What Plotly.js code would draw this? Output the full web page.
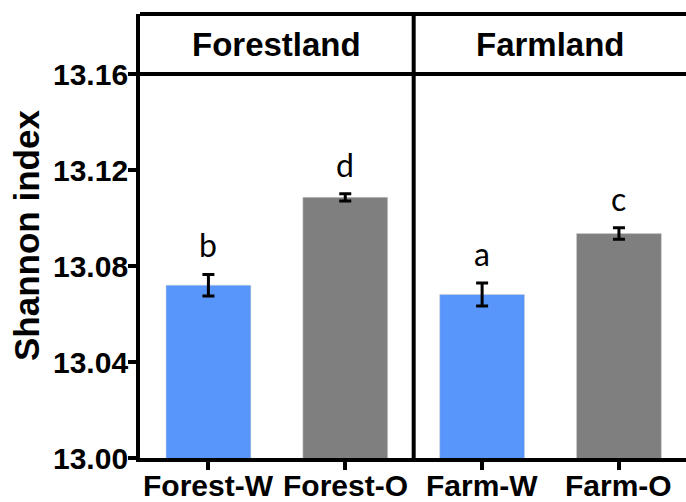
<!DOCTYPE html>
<html>
<head>
<meta charset="utf-8">
<script src="https://cdn.plot.ly/plotly-3.0.1.min.js"></script>
<style>html,body{margin:0;padding:0;background:#fff}#chart{width:686px;height:502px}</style>
</head>
<body>
<div id="chart"></div>
<script>
var categories = ["Forest-W", "Forest-O", "Farm-W", "Farm-O"];
var values = [13.072, 13.1086, 13.0681, 13.0935];
var errors = [0.0045, 0.0015, 0.0048, 0.0024];
var letters = ["b", "d", "a", "c"];
var colors = ["#5996fb", "#7f7f7f", "#5996fb", "#7f7f7f"];
var groups = ["Forestland", "Farmland"];
var groupCenters = [0.5, 2.5];
var yTicks = [13.00, 13.04, 13.08, 13.12, 13.16];
var headerLine = 13.16;
var yMax = 13.185;
var yTitle = "Shannon index";

var xIdx = categories.map(function(_, i){ return i; });
var arial = "'Liberation Sans', Arial, sans-serif";

var trace = {
  type: "bar",
  x: xIdx,
  y: values,
  width: 0.62,
  marker: {color: colors, line: {color: "#d0d0d0", width: 0.5}},
  error_y: {type: "data", array: errors, visible: true, color: "#000", thickness: 3, width: 6},
  hoverinfo: "skip"
};

var annotations = [];
letters.forEach(function(l, i){
  annotations.push({
    x: i, y: values[i] + errors[i], xref: "x", yref: "y",
    text: l, showarrow: false, yanchor: "bottom", yshift: 8,
    font: {family: "Lato, 'Noto Sans', sans-serif", size: 32, color: "#000"}
  });
});
groups.forEach(function(g, i){
  annotations.push({
    x: groupCenters[i], y: (headerLine + yMax) / 2, xref: "x", yref: "y",
    text: "<b>" + g + "</b>", showarrow: false, yanchor: "middle",
    font: {family: arial, size: 33, color: "#000"}
  });
});
categories.forEach(function(c, i){
  annotations.push({
    x: i, y: 0, xref: "x", yref: "paper",
    text: "<b>" + c + "</b>", showarrow: false, yanchor: "top", yshift: -10, borderpad: 0,
    font: {family: arial, size: 30, color: "#000"}
  });
});
yTicks.forEach(function(v){
  annotations.push({
    x: 0, y: v, xref: "paper", yref: "y",
    text: "<b>" + v.toFixed(2) + "</b>", showarrow: false, xanchor: "right", yanchor: "middle", xshift: -10,
    font: {family: arial, size: 30, color: "#000"}
  });
});
annotations.push({
  x: 0, y: 0.5, xref: "paper", yref: "paper",
  text: "<b>" + yTitle + "</b>", showarrow: false, textangle: -90,
  xanchor: "center", yanchor: "middle", xshift: -114,
  font: {family: arial, size: 35, color: "#000"}
});

var layout = {
  width: 686, height: 502,
  margin: {l: 140, r: 0, t: 14, b: 44},
  paper_bgcolor: "#fff", plot_bgcolor: "#fff",
  showlegend: false,
  font: {family: arial, color: "#000"},
  xaxis: {
    range: [-0.5, 3.49],
    tickmode: "array", tickvals: xIdx, showticklabels: false,
    ticks: "outside", ticklen: 8, tickwidth: 4, tickcolor: "#000",
    showline: true, linewidth: 4, linecolor: "#000",
    showgrid: false, zeroline: false, fixedrange: true
  },
  yaxis: {
    range: [13.0, yMax],
    tickmode: "array", tickvals: yTicks, showticklabels: false,
    ticks: "outside", ticklen: 8, tickwidth: 4, tickcolor: "#000",
    showline: true, linewidth: 4, linecolor: "#000",
    showgrid: false, zeroline: false, fixedrange: true
  },
  shapes: [
    {type: "line", xref: "paper", yref: "paper", x0: 0, x1: 1, y0: 1, y1: 1, line: {color: "#000", width: 4}},
    {type: "line", xref: "paper", yref: "y", x0: 0, x1: 1, y0: headerLine, y1: headerLine, line: {color: "#000", width: 4}},
    {type: "line", xref: "x", yref: "paper", x0: 1.5, x1: 1.5, y0: 0, y1: 1, line: {color: "#000", width: 4}}
  ],
  annotations: annotations
};

Plotly.newPlot("chart", [trace], layout, {displayModeBar: false, staticPlot: true});
</script>
</body>
</html>
